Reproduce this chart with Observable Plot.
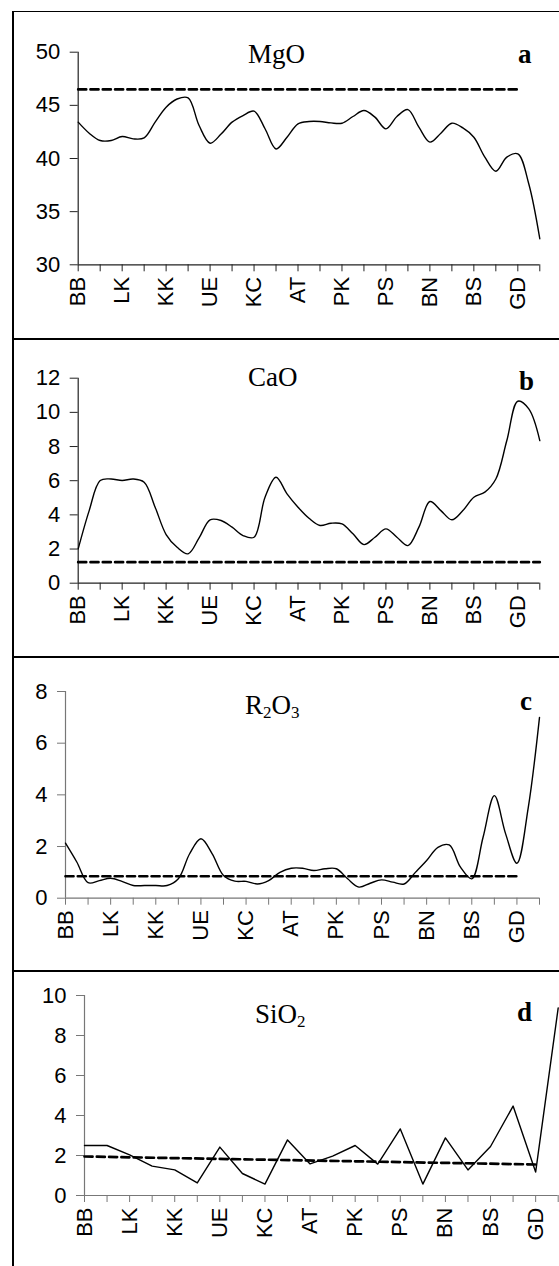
<!DOCTYPE html>
<html>
<head>
<meta charset="utf-8">
<script src="https://cdn.jsdelivr.net/npm/d3@7"></script>
<script src="https://cdn.jsdelivr.net/npm/@observablehq/plot@0.6"></script>
<style>
  html, body { margin: 0; padding: 0; background: #fff; }
  #root { position: relative; width: 559px; height: 1266px; overflow: hidden; background: #fff; }
  .panel { position: absolute; left: 0; }
  .panel svg { overflow: visible; }
  .title { position: absolute; font-family: "Liberation Serif", "Times New Roman", serif; font-size: 27px; line-height: 27px; white-space: nowrap; color: #000; }
  .title sub { font-size: 17px; vertical-align: -4px; line-height: 0; }
  .letter { position: absolute; font-family: "Liberation Serif", "Times New Roman", serif; font-weight: bold; font-size: 27px; line-height: 27px; color: #000; }
  .hline { position: absolute; left: 12px; width: 547px; height: 2px; background: #000; }
  .vline { position: absolute; top: 11px; width: 2px; height: 1255px; background: #000; }
</style>
</head>
<body>
<div id="root"></div>
<script>
// Category tick labels (shown at every other tick of 22 samples)
const labels = ["BB", "LK", "KK", "UE", "KC", "AT", "PK", "PS", "BN", "BS", "GD"];
const nTicks = 22;

// Smoothed series sampled every half category step (43 values, 0..21)
const mgo = [43.42, 42.38, 41.69, 41.69, 42.07, 41.85, 41.94, 43.42, 44.83, 45.6,
             45.7, 43.1, 41.44, 42.3, 43.42, 44.04, 44.45, 42.8, 40.9, 42.0,
             43.26, 43.48, 43.48, 43.35, 43.32, 43.95, 44.51, 43.89, 42.79, 43.95,
             44.6, 42.95, 41.54, 42.38, 43.32, 42.88, 42.0, 40.13, 38.8, 40.13,
             40.44, 37.6, 32.45];
const cao = [2.01, 4.25, 6.01, 6.1, 6.01, 6.1, 5.91, 4.45, 2.85, 2.1,
             1.72, 2.65, 3.71, 3.67, 3.28, 2.79, 2.69, 5.03, 6.2, 5.23,
             4.45, 3.8, 3.38, 3.51, 3.47, 2.89, 2.26, 2.69, 3.18, 2.69,
             2.2, 3.28, 4.78, 4.25, 3.71, 4.25, 5.03, 5.33, 6.1, 8.35,
             10.65, 10.2, 8.35];
const r2o3 = [2.13, 1.4, 0.6, 0.68, 0.77, 0.65, 0.49, 0.49, 0.49, 0.49,
              0.75, 1.72, 2.3, 1.72, 0.88, 0.66, 0.65, 0.55, 0.68, 1.0,
              1.16, 1.16, 1.07, 1.14, 1.14, 0.75, 0.43, 0.58, 0.71, 0.62,
              0.55, 1.0, 1.46, 1.97, 2.06, 1.2, 0.75, 2.36, 3.97, 2.49,
              1.35, 3.5, 7.0];
// Unsmoothed series, one value per category (22 values)
const sio2 = [2.5, 2.5, 2.03, 1.47, 1.28, 0.63, 2.42, 1.1, 0.57, 2.78, 1.58,
              1.97, 2.5, 1.57, 3.33, 0.57, 2.88, 1.28, 2.45, 4.47, 1.17, 9.38];

// Dashed reference lines: [start value, end value] and end category index
const refMgO = [46.5, 46.5], refMgOEnd = 20;
const refCaO = [1.23, 1.23], refCaOEnd = 21;
const refR2O3 = [0.85, 0.85], refR2O3End = 20;
const refSiO2 = [1.95, 1.55], refSiO2End = 20;

// y-axis ticks
const yTicksA = [30, 35, 40, 45, 50];
const yTicksB = [0, 2, 4, 6, 8, 10, 12];
const yTicksC = [0, 2, 4, 6, 8];
const yTicksD = [0, 2, 4, 6, 8, 10];

const halfSteps = arr => arr.map((v, i) => ({x: i / 2, y: v}));
const fullSteps = arr => arr.map((v, i) => ({x: i, y: v}));
const refLine = (vals, end) => [{x: 0, y: vals[0]}, {x: end, y: vals[1]}];

function panel({top, height, mt, mb, ml, mr, ydom, yticks, series, curve, ref, axisColor}) {
  const tickIdx = d3.range(nTicks);
  const svg = Plot.plot({
    width: 559,
    height,
    marginTop: mt, marginBottom: mb, marginLeft: ml, marginRight: mr,
    x: {domain: [0, nTicks - 1]},
    y: {domain: ydom},
    style: {fontFamily: "'Liberation Sans', Arial, sans-serif", fontSize: "22px", color: "#000", background: "transparent", overflow: "visible"},
    marks: [
      Plot.axisY({ticks: yticks, label: null, tickSize: 8, tickPadding: 10, stroke: axisColor, strokeOpacity: 1, tickFormat: d => String(d), fill: "#000"}),
      Plot.axisX({ticks: tickIdx, label: null, tickSize: 7, tickPadding: 5, tickRotate: -90, stroke: axisColor, strokeOpacity: 1, fill: "#000",
                  tickFormat: i => (i % 2 === 0 && i / 2 < labels.length) ? labels[i / 2] : ""}),
      Plot.ruleX([0], {stroke: axisColor, strokeWidth: 1.2}),
      Plot.ruleY([ydom[0]], {stroke: axisColor, strokeWidth: 1.2}),
      Plot.line(ref, {x: "x", y: "y", stroke: "#000", strokeWidth: 2.7, strokeDasharray: "8,4.3"}),
      Plot.line(series, {x: "x", y: "y", stroke: "#000", strokeWidth: 1.4, curve})
    ]
  });
  const wrap = document.createElement("div");
  wrap.className = "panel";
  wrap.style.top = top + "px";
  wrap.appendChild(svg);
  return wrap;
}

const root = document.getElementById("root");

root.appendChild(panel({top: 0, height: 339, mt: 51.7, mb: 74.7, ml: 77.7, mr: 19.7,
  ydom: [30, 50], yticks: yTicksA, series: halfSteps(mgo), curve: "catmull-rom",
  ref: refLine(refMgO, refMgOEnd), axisColor: "#222"}));
root.appendChild(panel({top: 339, height: 318, mt: 38.7, mb: 74.3, ml: 77.7, mr: 19.7,
  ydom: [0, 12], yticks: yTicksB, series: halfSteps(cao), curve: "catmull-rom",
  ref: refLine(refCaO, refCaOEnd), axisColor: "#222"}));
root.appendChild(panel({top: 657, height: 314, mt: 34, mb: 73.3, ml: 65, mr: 20,
  ydom: [0, 8], yticks: yTicksC, series: halfSteps(r2o3), curve: "catmull-rom",
  ref: refLine(refR2O3, refR2O3End), axisColor: "#777"}));
root.appendChild(panel({top: 971, height: 295, mt: 24, mb: 71, ml: 84, mr: 1.3,
  ydom: [0, 10], yticks: yTicksD, series: fullSteps(sio2), curve: "linear",
  ref: refLine(refSiO2, refSiO2End), axisColor: "#777"}));

// Frame lines
function addLine(cls, style) {
  const d = document.createElement("div");
  d.className = cls;
  Object.assign(d.style, style);
  root.appendChild(d);
}
addLine("vline", {left: "12px"});
addLine("hline", {top: "10.5px", height: "1.8px"});
addLine("hline", {top: "338px"});
addLine("hline", {top: "655.7px"});
addLine("hline", {top: "970px"});

// Titles and panel letters
const texts = [
  {cls: "title", html: "MgO", left: 248, top: 40.7},
  {cls: "letter", html: "a", left: 518, top: 41},
  {cls: "title", html: "CaO", left: 248, top: 364},
  {cls: "letter", html: "b", left: 519, top: 368.4},
  {cls: "title", html: "R<sub>2</sub>O<sub>3</sub>", left: 245, top: 692.4},
  {cls: "letter", html: "c", left: 520, top: 688},
  {cls: "title", html: "SiO<sub>2</sub>", left: 255, top: 1000.7},
  {cls: "letter", html: "d", left: 517, top: 999.4}
];
for (const t of texts) {
  const s = document.createElement("div");
  s.className = t.cls;
  s.innerHTML = t.html;
  s.style.left = t.left + "px";
  s.style.top = t.top + "px";
  root.appendChild(s);
}
</script>
</body>
</html>
